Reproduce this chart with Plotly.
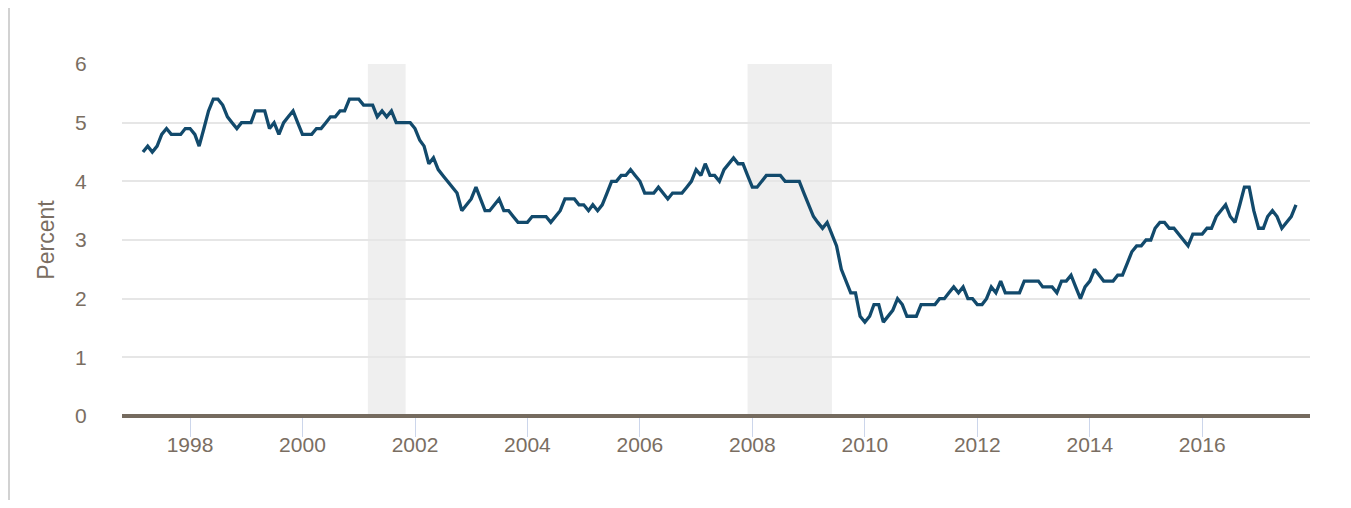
import pandas as pd
import plotly.graph_objects as go

# Monthly values (percent), March 1997 through September 2017
v1997 = [4.5, 4.6, 4.5, 4.6, 4.8, 4.9, 4.8, 4.8, 4.8, 4.9]  # Mar-Dec
v1998 = [4.9, 4.8, 4.6, 4.9, 5.2, 5.4, 5.4, 5.3, 5.1, 5.0, 4.9, 5.0]
v1999 = [5.0, 5.0, 5.2, 5.2, 5.2, 4.9, 5.0, 4.8, 5.0, 5.1, 5.2, 5.0]
v2000 = [4.8, 4.8, 4.8, 4.9, 4.9, 5.0, 5.1, 5.1, 5.2, 5.2, 5.4, 5.4]
v2001 = [5.4, 5.3, 5.3, 5.3, 5.1, 5.2, 5.1, 5.2, 5.0, 5.0, 5.0, 5.0]
v2002 = [4.9, 4.7, 4.6, 4.3, 4.4, 4.2, 4.1, 4.0, 3.9, 3.8, 3.5, 3.6]
v2003 = [3.7, 3.9, 3.7, 3.5, 3.5, 3.6, 3.7, 3.5, 3.5, 3.4, 3.3, 3.3]
v2004 = [3.3, 3.4, 3.4, 3.4, 3.4, 3.3, 3.4, 3.5, 3.7, 3.7, 3.7, 3.6]
v2005 = [3.6, 3.5, 3.6, 3.5, 3.6, 3.8, 4.0, 4.0, 4.1, 4.1, 4.2, 4.1]
v2006 = [4.0, 3.8, 3.8, 3.8, 3.9, 3.8, 3.7, 3.8, 3.8, 3.8, 3.9, 4.0]
v2007 = [4.2, 4.1, 4.3, 4.1, 4.1, 4.0, 4.2, 4.3, 4.4, 4.3, 4.3, 4.1]
v2008 = [3.9, 3.9, 4.0, 4.1, 4.1, 4.1, 4.1, 4.0, 4.0, 4.0, 4.0, 3.8]
v2009 = [3.6, 3.4, 3.3, 3.2, 3.3, 3.1, 2.9, 2.5, 2.3, 2.1, 2.1, 1.7]
v2010 = [1.6, 1.7, 1.9, 1.9, 1.6, 1.7, 1.8, 2.0, 1.9, 1.7, 1.7, 1.7]
v2011 = [1.9, 1.9, 1.9, 1.9, 2.0, 2.0, 2.1, 2.2, 2.1, 2.2, 2.0, 2.0]
v2012 = [1.9, 1.9, 2.0, 2.2, 2.1, 2.3, 2.1, 2.1, 2.1, 2.1, 2.3, 2.3]
v2013 = [2.3, 2.3, 2.2, 2.2, 2.2, 2.1, 2.3, 2.3, 2.4, 2.2, 2.0, 2.2]
v2014 = [2.3, 2.5, 2.4, 2.3, 2.3, 2.3, 2.4, 2.4, 2.6, 2.8, 2.9, 2.9]
v2015 = [3.0, 3.0, 3.2, 3.3, 3.3, 3.2, 3.2, 3.1, 3.0, 2.9, 3.1, 3.1]
v2016 = [3.1, 3.2, 3.2, 3.4, 3.5, 3.6, 3.4, 3.3, 3.6, 3.9, 3.9, 3.5]
v2017 = [3.2, 3.2, 3.4, 3.5, 3.4, 3.2, 3.3, 3.4, 3.6]  # Jan-Sep

start_month = "1997-03-01"

recession_starts = ["2001-03-01", "2007-12-01"]
recession_ends = ["2001-11-01", "2009-06-01"]

y_ticks = [0, 1, 2, 3, 4, 5, 6]
y_title = "Percent"

values = (v1997 + v1998 + v1999 + v2000 + v2001 + v2002 + v2003 + v2004 + v2005
          + v2006 + v2007 + v2008 + v2009 + v2010 + v2011 + v2012 + v2013 + v2014
          + v2015 + v2016 + v2017)
dates = pd.date_range(start_month, periods=len(values), freq="MS")

TEXT = "#7a6e62"
FONT = "Liberation Sans, Arial, Helvetica, sans-serif"

fig = go.Figure()
fig.add_trace(go.Scatter(
    x=dates, y=values, mode="lines",
    line=dict(color="#124a6c", width=3.3),
    hoverinfo="x+y", showlegend=False,
))

# page body has an 8px margin, so the figure is placed at (8, 8)
W, H = 1335, 492
ml, mr, mt, mb = 114, 33, 56, 84
pw, ph = W - ml - mr, H - mt - mb

shapes = []
for s, e in zip(recession_starts, recession_ends):
    shapes.append(dict(type="rect", xref="x", yref="paper", x0=s, x1=e, y0=0, y1=1,
                       fillcolor="#efefef", line=dict(width=0), layer="below"))
# thick baseline at zero
shapes.append(dict(type="line", xref="paper", yref="paper", x0=0, x1=1, y0=0, y1=0,
                   line=dict(color="#756b5f", width=4)))
# container left border
shapes.append(dict(type="line", xref="paper", yref="paper",
                   x0=(1 - ml) / pw, x1=(1 - ml) / pw,
                   y0=(H - mb) / ph, y1=(-mb) / ph,
                   line=dict(color="#d2d2d2", width=2)))

fig.update_layout(
    width=W, height=H,
    margin=dict(l=ml, r=mr, t=mt, b=mb, autoexpand=False),
    paper_bgcolor="white", plot_bgcolor="white",
    font=dict(family=FONT, color=TEXT, size=21),
    shapes=shapes,
    xaxis=dict(
        type="date",
        range=["1996-10-16", "2017-12-01"],
        tick0="1998-01-01", dtick="M24", tickformat="%Y",
        showgrid=False, zeroline=False, showline=False,
        ticks="outside", ticklen=20, tickwidth=1, tickcolor="#ccd6eb",
        ticklabelstandoff=-10,
        tickfont=dict(size=21, color=TEXT, family=FONT),
        fixedrange=True,
    ),
    yaxis=dict(
        range=[0, 6], tickvals=y_ticks,
        showgrid=True, gridcolor="#e6e6e6", gridwidth=2,
        zeroline=False, showline=False,
        ticks="outside", ticklen=30, tickcolor="rgba(0,0,0,0)",
        tickfont=dict(size=21, color=TEXT, family=FONT),
        title=dict(text=y_title, standoff=14, font=dict(size=23, color=TEXT, family=FONT)),
        fixedrange=True,
    ),
)

fig.write_html("out.html")
